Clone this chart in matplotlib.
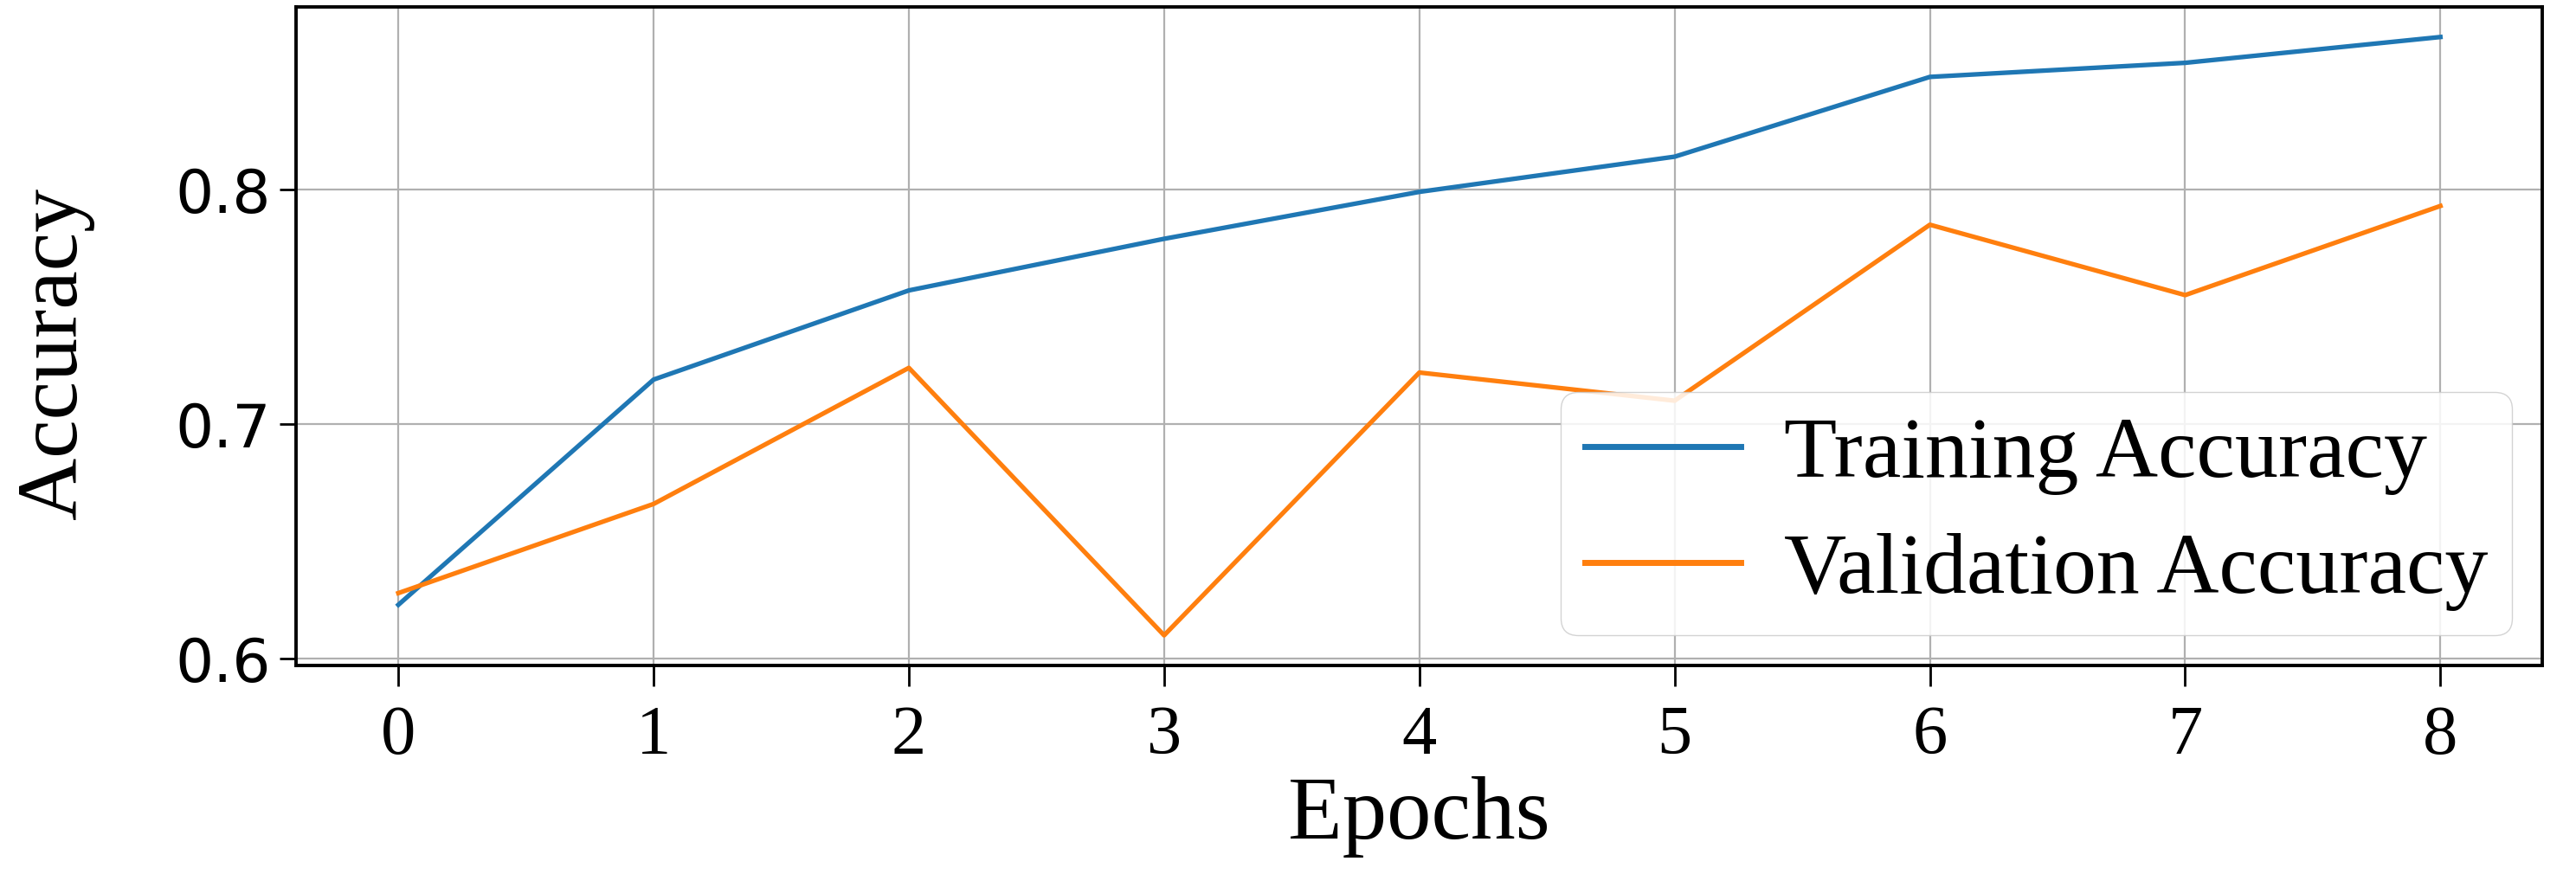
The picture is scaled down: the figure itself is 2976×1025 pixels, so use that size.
import numpy as np
import matplotlib
matplotlib.use("Agg")
import matplotlib.pyplot as plt

# accuracy per epoch
epochs = [0, 1, 2, 3, 4, 5, 6, 7, 8]
train_acc = [0.623, 0.719, 0.757, 0.779, 0.799, 0.814, 0.848, 0.854, 0.865]
val_acc = [0.628, 0.666, 0.724, 0.610, 0.722, 0.710, 0.785, 0.755, 0.793]
yticks = [0.6, 0.7, 0.8]

serif = "Liberation Serif"
sans = "DejaVu Sans"

fig = plt.figure(figsize=(29.76, 10.25), dpi=100)
ax = fig.add_axes([0.115, 0.250, 0.872, 0.742])

ax.plot(epochs, train_acc, color="#1f77b4", lw=3.8, label="Training Accuracy")
ax.plot(epochs, val_acc, color="#ff7f0e", lw=3.8, label="Validation Accuracy")

ax.grid(True, color="#b0b0b0", lw=1.6)
ax.set_xticks(epochs)
ax.set_yticks(yticks)
ax.set_yticklabels([str(v) for v in yticks], fontfamily=sans, fontsize=50)
ax.set_xticklabels([str(e) for e in epochs], fontfamily=serif, fontsize=58)
ax.tick_params(axis="x", length=17, width=2, pad=16)
ax.tick_params(axis="y", length=14, width=2, pad=7)
for s in ax.spines.values():
    s.set_linewidth(2.8)

ax.set_xlabel("Epochs", fontfamily=serif, fontsize=74)
ax.xaxis.set_label_coords(0.5, -0.168)
ax.set_ylabel("Accuracy", fontfamily=serif, fontsize=72)
ax.yaxis.set_label_coords(-0.090, 0.474)

leg = ax.legend(loc="lower right", prop={"family": serif, "size": 72},
                borderaxespad=0.35, borderpad=0.28, labelspacing=0.43,
                handlelength=1.8, handletextpad=0.5, fancybox=True,
                edgecolor="0.8", framealpha=0.85)
for h in leg.get_lines():
    h.set_linewidth(5)

fig.savefig("out.png", dpi=100)
